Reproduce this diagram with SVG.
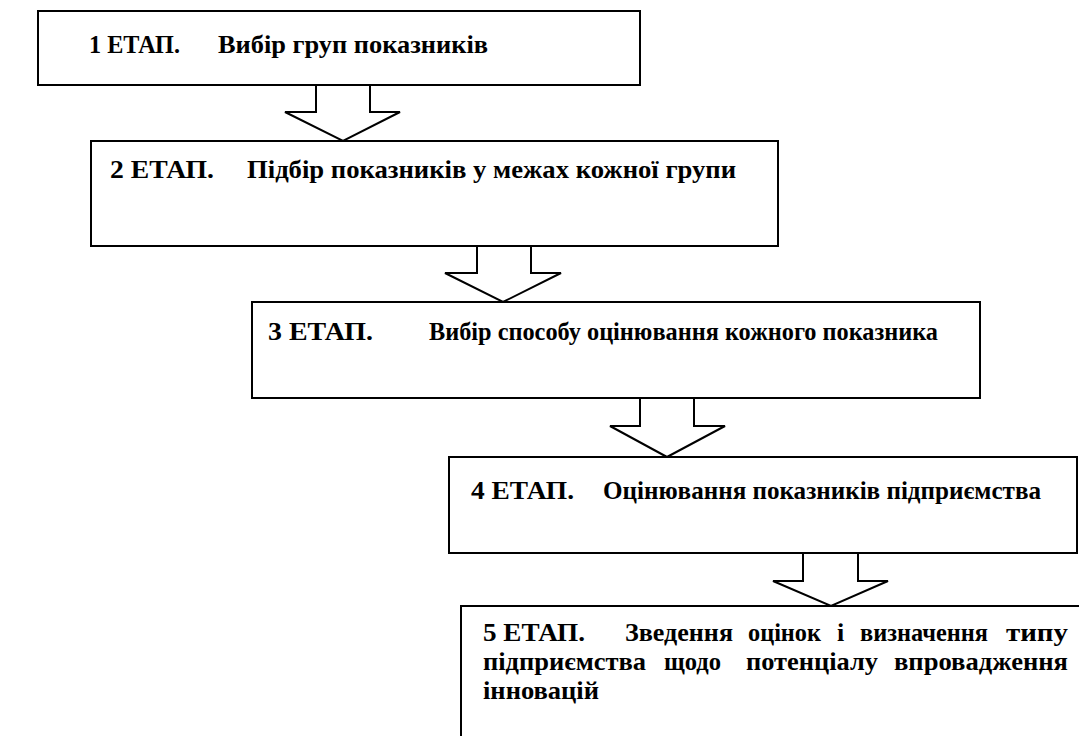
<svg xmlns="http://www.w3.org/2000/svg" width="1079" height="736" viewBox="0 0 1079 736">
<style>
.box{fill:#fff;stroke:#000;stroke-width:2}
.arr{fill:#fff;stroke:#000;stroke-width:2;stroke-linejoin:miter}
text{font-family:'Liberation Serif','Times New Roman',serif;font-weight:bold;font-size:26px;fill:#000}
</style>
<rect width="1079" height="736" fill="#fff"/>
<g id="connectors">
<polygon class="arr" points="316,85 370,85 370,112 400,112 343,141 285,112 316,112"/>
<polygon class="arr" points="477,246 531,246 531,273 561,273 503,302 445,273 477,273"/>
<polygon class="arr" points="640,398 694,398 694,426 725,426 667,457 610,426 640,426"/>
<polygon class="arr" points="803,553 858,553 858,581 888,581 831,606 773,581 803,581"/>
</g>
<g id="stage1">
<rect class="box" x="38" y="11" width="602" height="74"/>
<text x="89" y="53" textLength="91" lengthAdjust="spacingAndGlyphs">1 ЕТАП.</text>
<text x="218" y="53" textLength="270" lengthAdjust="spacingAndGlyphs">Вибір груп показників</text>
</g>
<g id="stage2">
<rect class="box" x="91" y="141" width="687" height="105"/>
<text x="110" y="178" textLength="104" lengthAdjust="spacingAndGlyphs">2 ЕТАП.</text>
<text x="247" y="178" textLength="489" lengthAdjust="spacingAndGlyphs">Підбір показників у межах кожної групи</text>
</g>
<g id="stage3">
<rect class="box" x="252" y="302" width="728" height="96"/>
<text x="268" y="340" textLength="105" lengthAdjust="spacingAndGlyphs">3 ЕТАП.</text>
<text x="429" y="340" textLength="509" lengthAdjust="spacingAndGlyphs">Вибір способу оцінювання кожного показника</text>
</g>
<g id="stage4">
<rect class="box" x="449" y="457" width="628" height="96"/>
<text x="471" y="499" textLength="103" lengthAdjust="spacingAndGlyphs">4 ЕТАП.</text>
<text x="603" y="499" textLength="438" lengthAdjust="spacingAndGlyphs">Оцінювання показників підприємства</text>
</g>
<g id="stage5">
<rect class="box" x="461" y="606" width="630" height="140"/>
<text x="483" y="641" textLength="102" lengthAdjust="spacingAndGlyphs">5 ЕТАП.</text>
<text x="625" y="641" textLength="108" lengthAdjust="spacingAndGlyphs">Зведення</text>
<text x="748" y="641" textLength="73" lengthAdjust="spacingAndGlyphs">оцінок</text>
<text x="837" y="641">і</text>
<text x="860" y="641" textLength="128" lengthAdjust="spacingAndGlyphs">визначення</text>
<text x="1006" y="641" textLength="62" lengthAdjust="spacingAndGlyphs">типу</text>
<text x="483" y="670" textLength="163" lengthAdjust="spacingAndGlyphs">підприємства</text>
<text x="664" y="670" textLength="57" lengthAdjust="spacingAndGlyphs">щодо</text>
<text x="746" y="670" textLength="132" lengthAdjust="spacingAndGlyphs">потенціалу</text>
<text x="894" y="670" textLength="174" lengthAdjust="spacingAndGlyphs">впровадження</text>
<text x="483" y="699" textLength="116" lengthAdjust="spacingAndGlyphs">інновацій</text>
</g>
</svg>
